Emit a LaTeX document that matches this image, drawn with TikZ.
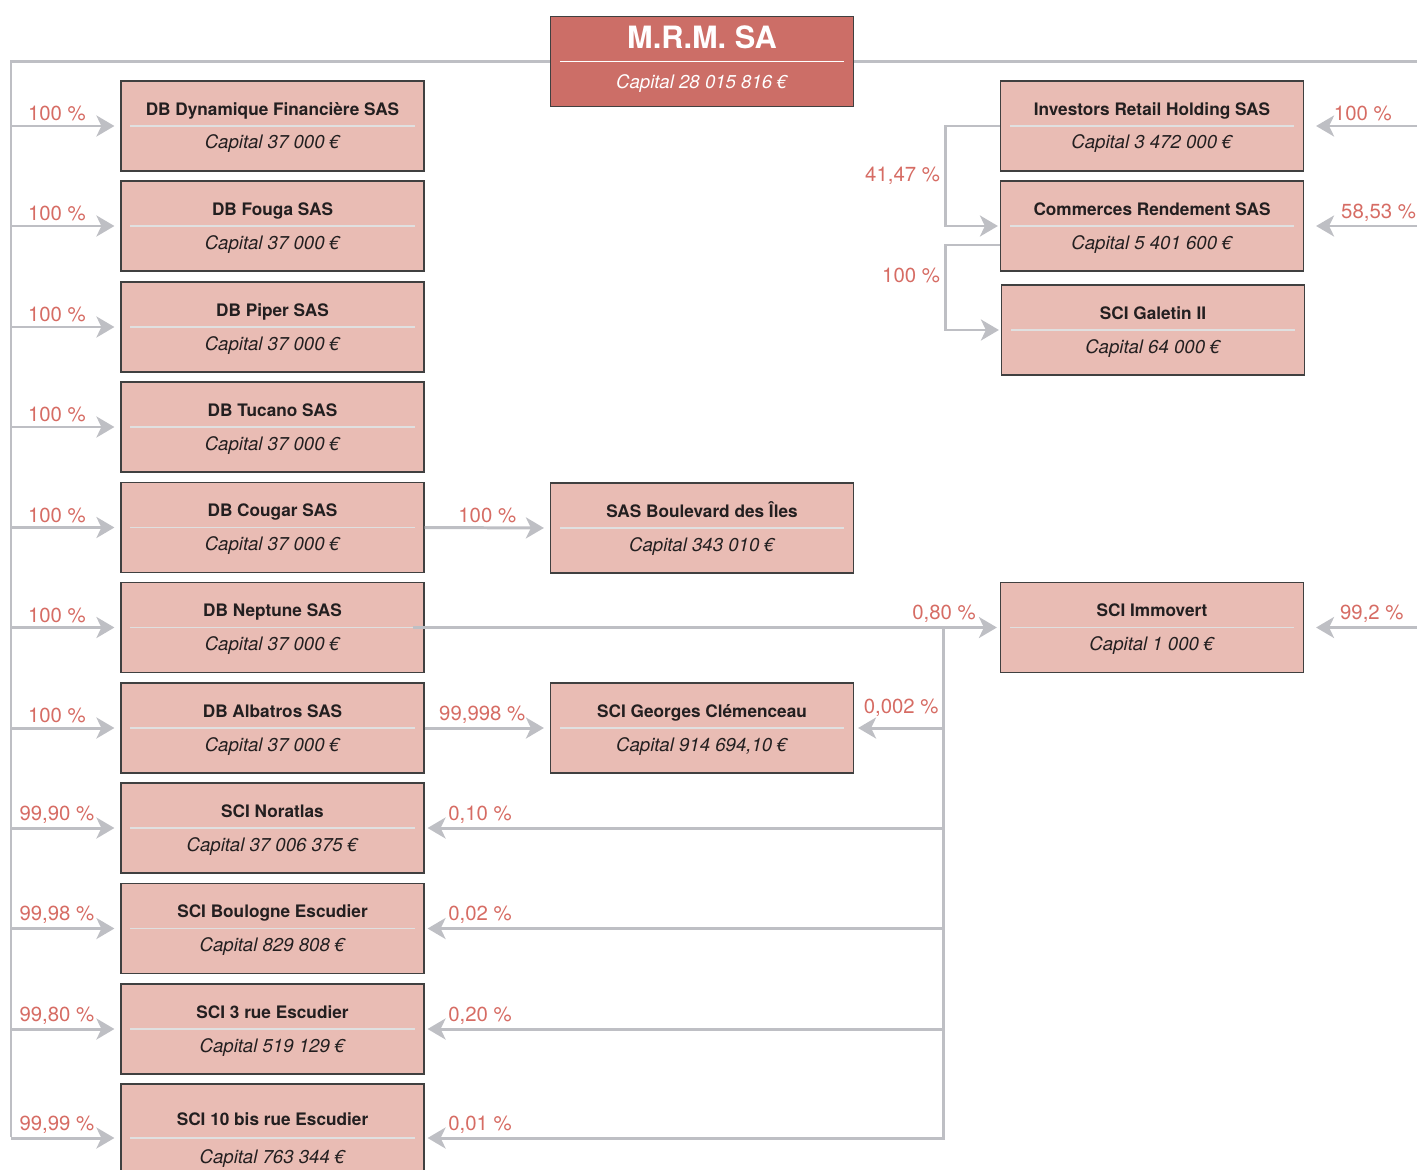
\documentclass[tikz,border=0pt]{standalone}
\usepackage{fontspec}
\setmainfont{TeX Gyre Heros}
\usetikzlibrary{arrows.meta,calc}
\definecolor{boxfill}{RGB}{233,188,180}
\definecolor{headfill}{RGB}{204,110,103}
\definecolor{linkgray}{RGB}{190,191,196}
\definecolor{pctred}{RGB}{214,108,100}
\definecolor{textdark}{RGB}{35,31,32}

\begin{document}
\begin{tikzpicture}[x=0.02cm,y=-0.02cm,
  entity/.style={draw=black!75,line width=0.7pt,fill=boxfill,
    minimum width=6.06cm,minimum height=1.8cm,inner sep=0pt},
  headbox/.style={entity,fill=headfill},
  nametext/.style={font=\fontsize{9.8}{11}\selectfont\bfseries,
    text=textdark,inner sep=0pt,anchor=base},
  captext/.style={font=\fontsize{10.6}{12}\selectfont\itshape,
    text=textdark,inner sep=0pt,anchor=base},
  sepline/.style={draw=white!88!black,line width=0.6pt},
  bus/.style={draw=linkgray,line width=1.7pt},
  link/.style={bus,-{Stealth[length=0.36cm,width=0.42cm,inset=0.1cm]},
    shorten >=0.12cm},
  pct/.style={font=\fontsize{11.6}{13}\selectfont,text=pctred,inner sep=2pt}]
  \useasboundingbox (0,0) rectangle (1417,1170);

  % parent company
  \node[headbox] (mrm) at (702,61.5) {};
  \node[nametext,font=\fontsize{17.5}{20}\selectfont\bfseries,text=white]
    (mrm-n) at ([yshift=0.26cm]mrm.center) {M.R.M. SA};
  \draw[draw=white,line width=0.6pt] ([xshift=0.2cm]mrm.west) -- ([xshift=-0.2cm]mrm.east);
  \node[captext,text=white] (mrm-c) at ([yshift=-0.54cm]mrm.center) {Capital 28 015 816 €};

  % subsidiaries
  \foreach \id/\x/\y/\nm/\capt in {
    dyn/272.5/126/DB Dynamique Financière SAS/37 000,
    fouga/272.5/226/DB Fouga SAS/37 000,
    piper/272.5/327/DB Piper SAS/37 000,
    tucano/272.5/427/DB Tucano SAS/37 000,
    cougar/272.5/527.5/DB Cougar SAS/37 000,
    neptune/272.5/627.5/DB Neptune SAS/37 000,
    albatros/272.5/728/DB Albatros SAS/37 000,
    noratlas/272.5/828/SCI Noratlas/37 006 375,
    boulogne/272.5/928.5/SCI Boulogne Escudier/829 808,
    rue3/272.5/1029/SCI 3 rue Escudier/519 129,
    boulevard/702/528/SAS Boulevard des Îles/343 010,
    georges/702/728/SCI Georges Clémenceau/{914 694,10},
    inv/1152/126/Investors Retail Holding SAS/3 472 000,
    com/1152/226/Commerces Rendement SAS/5 401 600,
    galetin/1153/330/SCI Galetin II/64 000,
    immovert/1152/627.5/SCI Immovert/1 000}
  {
    \node[entity] (\id) at (\x,\y) {};
    \node[nametext] (\id-n) at ([yshift=0.22cm]\id.center) {\nm};
    \draw[sepline] ([xshift=0.2cm]\id.west) -- ([xshift=-0.2cm]\id.east);
    \node[captext] (\id-c) at ([yshift=-0.46cm]\id.center) {Capital \capt~€};
  }
  \node[entity,minimum height=2.16cm] (bis) at (272.5,1138) {};
  \node[nametext] (bis-n) at ([yshift=0.26cm]bis.center) {SCI 10 bis rue Escudier};
  \draw[sepline] ([xshift=0.2cm]bis.west) -- ([xshift=-0.2cm]bis.east);
  \node[captext] (bis-c) at ([yshift=-0.5cm]bis.center) {Capital 763 344 €};

  % holdings of M.R.M. SA
  \coordinate (busend) at (11,1137);
  \coordinate (edge) at (1417,0);
  \draw[bus] (mrm.west) -| (busend);
  \draw[bus] (mrm.east) -- (mrm.east -| edge);
  \foreach \id/\pct in {dyn/100,fouga/100,piper/100,tucano/100,cougar/100,
    neptune/100,albatros/100,noratlas/{99,90},boulogne/{99,98},
    rue3/{99,80},bis/{99,99}}
    \draw[link] (\id.west -| busend) -- node[pct,above,pos=0.42]{\pct~\%} (\id.west);
  \draw[link,shorten >=0.24cm] (edge |- inv.east) -- node[pct,above,pos=0.48]{100~\%} (inv.east);
  \draw[link,shorten >=0.24cm] (edge |- com.east) -- node[pct,above,pos=0.34]{58,53~\%} (com.east);
  \draw[link,shorten >=0.24cm] (edge |- immovert.east) -- node[pct,above,pos=0.40]{99,2~\%} (immovert.east);

  % second level
  \draw[link] (cougar.east) -- node[pct,above]{100~\%} (boulevard.west);
  \draw[link] (albatros.east) -- node[pct,above,pos=0.46]{99,998~\%} (georges.west);
  \draw[link,shorten >=0.06cm] ([xshift=-0.24cm]neptune.east) -- node[pct,above,pos=0.905]{0,80~\%} (immovert.west);
  \coordinate (split) at (943,0);
  \draw[bus,line cap=rect] (split |- neptune.east) -- (split |- bis.east);
  \draw[link,shorten >=0.08cm] (split |- georges.east) -- node[pct,above=0.14cm,pos=0.47]{0,002~\%} (georges.east);
  \foreach \id/\pct in {noratlas/{0,10},boulogne/{0,02},rue3/{0,20},bis/{0,01}}
    \draw[link,shorten >=0.06cm] (split |- \id.east) -- node[pct,anchor=south west,pos=0.964]{\pct~\%} (\id.east);

  % right group
  \coordinate (jr) at (945,0);
  \draw[link,shorten >=0.04cm] (inv.west) -- (inv.west -| jr) |- node[pct,left,pos=0.25]{41,47~\%} (com.west);
  \draw[link,shorten >=0.04cm] ([yshift=-0.38cm]com.west) -- ([yshift=-0.38cm]com.west -| jr)
    |- node[pct,left,pos=0.18]{100~\%} (galetin.west);
\end{tikzpicture}
\end{document}
